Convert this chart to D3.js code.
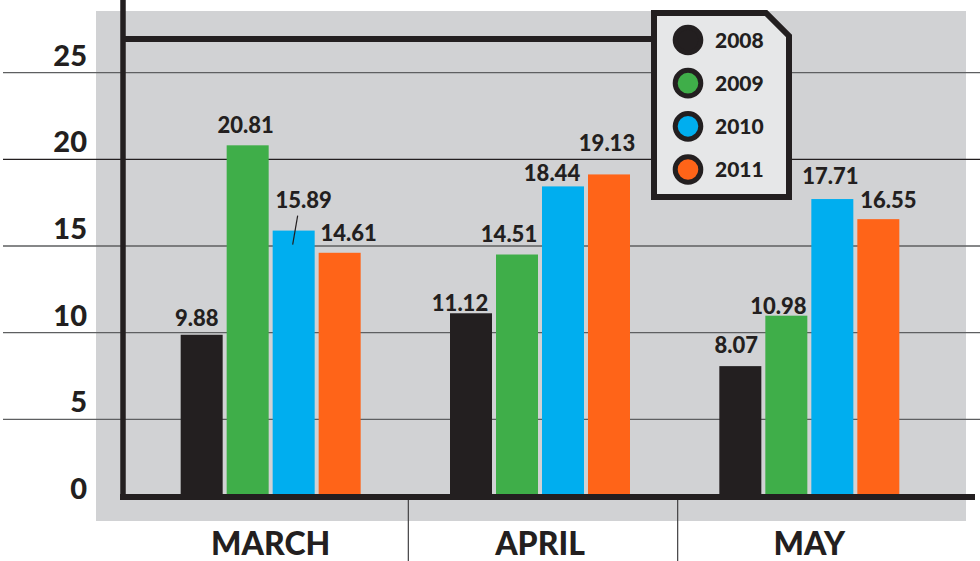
<!DOCTYPE html>
<html><head><meta charset="utf-8">
<script src="https://cdn.jsdelivr.net/npm/d3@7"></script>
<style>html,body{margin:0;padding:0;background:#fff;} svg{display:block;font-family:Lato,"Open Sans",sans-serif;}</style>
</head><body>
<svg id="chart" width="980" height="561"></svg>
<script>
// ---- data ----
const months = ["MARCH", "APRIL", "MAY"];
const years = ["2008", "2009", "2010", "2011"];
const v2008 = [9.88, 11.12, 8.07];
const v2009 = [20.81, 14.51, 10.98];
const v2010 = [15.89, 18.44, 17.71];
const v2011 = [14.61, 19.13, 16.55];
const yTicks = [0, 5, 10, 15, 20, 25];

// ---- layout (label nudges [dx, dy] per month x year, not data) ----
const labelNudge = [
  [[-5, -9], [-2, -12], [10, -23], [9, -12]],
  [[-11, -2], [-8, -13], [-11, -5], [-2, -23]],
  [[-4, -13], [-8, -2], [-2, -15], [10, -11]]
];
const leader = { m: 0, s: 2 }; // label with a leader line

const colors = { "2008": "#231f20", "2009": "#3fae49", "2010": "#00aeef", "2011": "#ff6418" };
const ink = "#231f20";
const series = [v2008, v2009, v2010, v2011];
const W = 900;

const svg = d3.select("#chart");
const axisX = 123, axisY = 497;

const y = d3.scaleLinear().domain([0, 25]).range([506, 72.7]);
const x0 = d3.scaleBand().domain(months).range([136, 944]);
const x1 = d3.scaleBand().domain(years).range([0, 180]).paddingInner(4 / 46);
const groupStart = m => x0(m) + x0.bandwidth() / 2 - 90;

// gray panel
svg.append("rect").attr("x", 96).attr("y", 11).attr("width", 870).attr("height", 510).attr("fill", "#d1d2d4");

// gridlines
svg.append("g").selectAll("line").data(yTicks.filter(t => t > 0)).join("line")
  .attr("x1", 3).attr("x2", 980)
  .attr("y1", d => y(d)).attr("y2", d => y(d))
  .attr("stroke", d => d === 20 ? ink : "#5e5f61").attr("stroke-width", 1.3);

// tick labels
svg.append("g").selectAll("text").data(yTicks).join("text")
  .attr("x", 87).attr("y", d => y(d) - 7)
  .attr("text-anchor", "end").attr("font-size", 29).attr("font-weight", W).attr("fill", ink)
  .text(d => d);

// bars
const bars = [];
months.forEach((m, mi) => years.forEach((yr, si) => bars.push({ m, mi, yr, si, v: series[si][mi] })));
svg.append("g").selectAll("rect").data(bars).join("rect")
  .attr("x", d => groupStart(d.m) + x1(d.yr))
  .attr("y", d => y(d.v))
  .attr("width", x1.bandwidth())
  .attr("height", d => axisY - y(d.v))
  .attr("fill", d => colors[d.yr]);

// value labels
const lab = svg.append("g");
bars.forEach(d => {
  const cx = groupStart(d.m) + x1(d.yr) + x1.bandwidth() / 2;
  const [dx, dy] = labelNudge[d.mi][d.si];
  lab.append("text")
    .attr("x", cx + dx).attr("y", y(d.v) + dy)
    .attr("text-anchor", "middle").attr("font-size", 22).attr("font-weight", W).attr("fill", ink)
    .text(d.v.toFixed(2));
  if (d.mi === leader.m && d.si === leader.s) {
    lab.append("line")
      .attr("x1", cx + 4).attr("y1", y(d.v) + dy + 8)
      .attr("x2", cx - 1).attr("y2", y(d.v) + 14)
      .attr("stroke", ink).attr("stroke-width", 1.2);
  }
});

// axes
svg.append("line").attr("x1", axisX).attr("x2", axisX).attr("y1", 0).attr("y2", axisY + 3)
  .attr("stroke", ink).attr("stroke-width", 5.5);
svg.append("line").attr("x1", axisX - 3).attr("x2", 975).attr("y1", axisY).attr("y2", axisY)
  .attr("stroke", ink).attr("stroke-width", 6);
svg.append("line").attr("x1", axisX).attr("x2", 655).attr("y1", 39).attr("y2", 39)
  .attr("stroke", ink).attr("stroke-width", 6);

// category separators and labels
svg.append("g").selectAll("line").data(months.slice(1)).join("line")
  .attr("x1", d => x0(d) + 3).attr("x2", d => x0(d) + 3)
  .attr("y1", axisY + 3).attr("y2", 561)
  .attr("stroke", "#414042").attr("stroke-width", 1.2);
svg.append("g").selectAll("text").data(months).join("text")
  .attr("x", d => x0(d) + x0.bandwidth() / 2)
  .attr("y", 555)
  .attr("text-anchor", "middle").attr("font-size", 32).attr("font-weight", W).attr("fill", ink)
  .text(d => d);

// legend
const lg = svg.append("g");
lg.append("path").attr("d", "M654,13 L766,13 L789,36 L789,197 L654,197 Z")
  .attr("fill", "#e6e7e8").attr("stroke", ink).attr("stroke-width", 6).attr("stroke-linejoin", "miter");
const legY = d3.scalePoint().domain(years).range([40, 169.5]);
lg.selectAll("circle").data(years).join("circle")
  .attr("cx", 688).attr("cy", d => legY(d)).attr("r", 12.8)
  .attr("fill", d => colors[d]).attr("stroke", ink).attr("stroke-width", 5);
lg.selectAll("text").data(years).join("text")
  .attr("x", 715).attr("y", d => legY(d) + 7.5)
  .attr("font-size", 21).attr("font-weight", W).attr("fill", ink)
  .text(d => d);
</script>
</body></html>
